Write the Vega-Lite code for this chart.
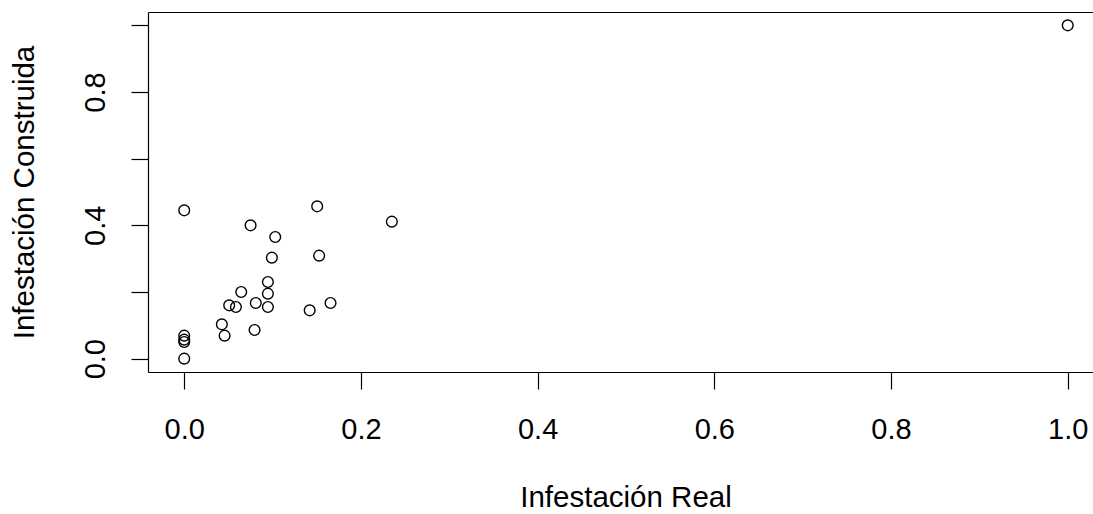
{
  "$schema": "https://vega.github.io/schema/vega-lite/v6.json",
  "width": 945,
  "height": 360,
  "autosize": {"type": "none"},
  "padding": {"left": 148, "top": 12, "right": 0, "bottom": 142},
  "background": "white",
  "config": {
    "view": {"stroke": null},
    "axis": {
      "labelFont": "Liberation Sans",
      "titleFont": "Liberation Sans",
      "labelFontSize": 29,
      "titleFontSize": 29.5,
      "labelColor": "#000",
      "titleColor": "#000",
      "titleFontWeight": "normal",
      "domainColor": "#000",
      "domainWidth": 1.2,
      "tickColor": "#000",
      "tickWidth": 1.2,
      "grid": false
    }
  },
  "data": {
    "values": [
      {"real": 0.0, "construida": 0.445},
      {"real": 0.1505, "construida": 0.457},
      {"real": 0.0751, "construida": 0.400},
      {"real": 0.235, "construida": 0.411},
      {"real": 0.103, "construida": 0.365},
      {"real": 0.0992, "construida": 0.303},
      {"real": 0.1527, "construida": 0.309},
      {"real": 0.0947, "construida": 0.230},
      {"real": 0.0645, "construida": 0.200},
      {"real": 0.0947, "construida": 0.195},
      {"real": 0.0509, "construida": 0.160},
      {"real": 0.0585, "construida": 0.155},
      {"real": 0.081, "construida": 0.167},
      {"real": 0.0947, "construida": 0.155},
      {"real": 0.1656, "construida": 0.167},
      {"real": 0.142, "construida": 0.145},
      {"real": 0.0426, "construida": 0.103},
      {"real": 0.0457, "construida": 0.069},
      {"real": 0.0796, "construida": 0.086},
      {"real": 0.0, "construida": 0.069},
      {"real": 0.0, "construida": 0.057},
      {"real": 0.0, "construida": 0.050},
      {"real": 0.0, "construida": 0.0},
      {"real": 1.0, "construida": 1.0}
    ]
  },
  "encoding": {
    "y": {
      "field": "construida",
      "type": "quantitative",
      "scale": {"domain": [-0.04, 1.04], "nice": false, "zero": false},
      "axis": {
        "values": [0, 0.2, 0.4, 0.6, 0.8, 1.0],
        "tickSize": 17,
        "domain": true,
        "labelAngle": -90,
        "labelAlign": "center",
        "labelBaseline": "alphabetic",
        "labelPadding": 27,
        "labelFlush": false,
        "labelOverlap": false,
        "labelExpr": "round(datum.value*10) % 4 == 0 ? format(datum.value, '.1f') : ''",
        "title": "Infestación Construida",
        "titleAngle": -90,
        "titleAlign": "center",
        "titleBaseline": "alphabetic",
        "titleX": -114.7,
        "titleY": 180
      }
    }
  },
  "layer": [
    {
      "mark": {"type": "point", "shape": "circle", "filled": false, "size": 115, "stroke": "#000", "strokeWidth": 1.4, "opacity": 1},
      "encoding": {
        "x": {
          "field": "real",
          "type": "quantitative",
          "scale": {"domain": [-0.041, 1.0286], "nice": false, "zero": false},
          "axis": {
            "orient": "bottom",
            "values": [0, 0.2, 0.4, 0.6, 0.8, 1.0],
            "format": ".1f",
            "tickSize": 17,
            "domain": true,
            "labelBaseline": "alphabetic",
            "labelPadding": 49,
            "labelFlush": false,
            "labelOverlap": false,
            "title": "Infestación Real",
            "titleAlign": "center",
            "titleBaseline": "alphabetic",
            "titleX": 477.5,
            "titleY": 134
          }
        }
      }
    },
    {
      "mark": {"type": "point", "opacity": 0},
      "encoding": {
        "x": {
          "field": "real",
          "type": "quantitative",
          "axis": {"orient": "top", "ticks": false, "labels": false, "title": null, "domain": true}
        }
      }
    }
  ],
  "resolve": {"axis": {"x": "independent"}}
}
